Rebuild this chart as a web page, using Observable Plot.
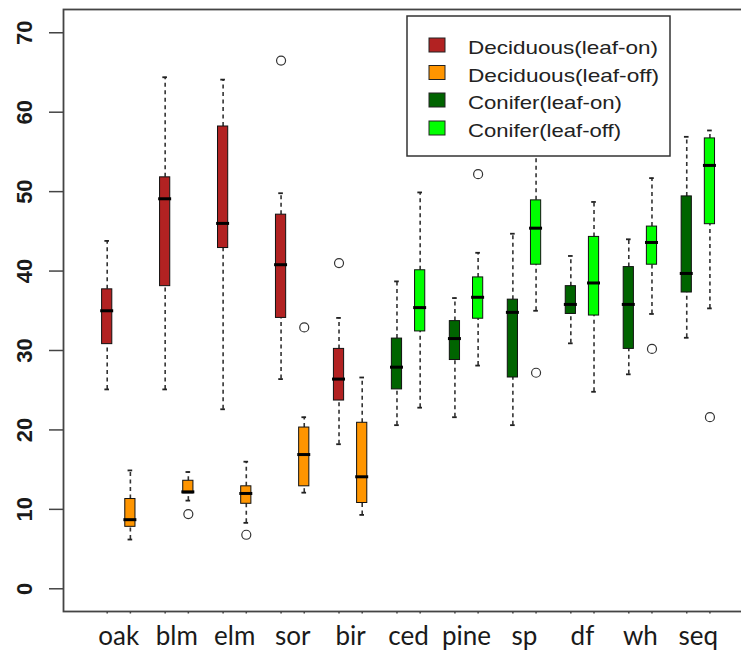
<!DOCTYPE html>
<html>
<head>
<meta charset="utf-8">
<script src="https://cdn.jsdelivr.net/npm/d3@7"></script>
<script src="https://cdn.jsdelivr.net/npm/@observablehq/plot@0.6"></script>
<style>
  html, body { margin: 0; padding: 0; background: white; overflow: hidden; }
  #chart svg { display: block; max-width: none; }
</style>
</head>
<body>
<div id="chart"></div>
<script>
// ---- data ----
const species = ["oak","blm","elm","sor","bir","ced","pine","sp","df","wh","seq"];
const speciesType = ["Deciduous","Deciduous","Deciduous","Deciduous","Deciduous","Conifer","Conifer","Conifer","Conifer","Conifer","Conifer"];
const seriesNames = ["Deciduous(leaf-on)","Deciduous(leaf-off)","Conifer(leaf-on)","Conifer(leaf-off)"];
const seriesColors = ["#B22222","#FF9500","#006400","#00FF00"];
const yTicks = [0,10,20,30,40,50,60,70];

// leaf-on summary: lower whisker, Q1, median, Q3, upper whisker
const onLo  = [25.1,25.1,22.6,26.4,18.2,20.6,21.6,20.6,30.9,27.0,31.6];
const onQ1  = [30.8,38.1,42.9,34.1,23.7,25.1,28.8,26.6,34.6,30.2,37.3];
const onMed = [35.0,49.1,46.0,40.8,26.4,27.9,31.5,34.8,35.8,35.8,39.7];
const onQ3  = [37.7,51.8,58.2,47.1,30.2,31.5,33.7,36.4,38.1,40.5,49.4];
const onHi  = [43.8,64.4,64.1,49.8,34.1,38.7,36.6,44.7,41.9,44.0,56.9];
// leaf-off summary
const offLo  = [6.2,11.1,8.3,12.1,9.3,22.8,28.1,35.0,24.8,34.6,35.3];
const offQ1  = [7.8,12.0,10.7,12.9,10.8,32.4,34.0,40.8,34.4,40.8,45.9];
const offMed = [8.7,12.2,12.0,16.9,14.1,35.4,36.7,45.4,38.5,43.6,53.3];
const offQ3  = [11.3,13.6,12.9,20.3,20.9,40.1,39.2,48.9,44.3,45.6,56.7];
const offHi  = [14.9,14.7,16.0,21.6,26.6,49.9,42.3,55.7,48.7,51.7,57.7];
// outliers: species, leaf condition, value
const outSpecies = ["sor","bir","blm","elm","sor","pine","sp","wh","seq"];
const outCond    = ["on","on","off","off","off","off","off","off","off"];
const outValue   = [66.5,41.0,9.4,6.8,32.9,52.2,27.2,30.2,21.6];

// ---- build table ----
const pairStep = 2.5;
const posOf = (sp, cond) => species.indexOf(sp) * pairStep + (cond === "on" ? 0 : 1);
const boxes = [];
species.forEach((s, i) => {
  boxes.push({sp: s, cond: "on",  series: speciesType[i] + "(leaf-on)",  lo: onLo[i],  q1: onQ1[i],  med: onMed[i],  q3: onQ3[i],  hi: onHi[i]});
  boxes.push({sp: s, cond: "off", series: speciesType[i] + "(leaf-off)", lo: offLo[i], q1: offQ1[i], med: offMed[i], q3: offQ3[i], hi: offHi[i]});
});
boxes.forEach(b => b.pos = posOf(b.sp, b.cond));
const outliers = outSpecies.map((s, i) => ({pos: posOf(s, outCond[i]), v: outValue[i]}));
const labelPos = species.map((s, i) => ({name: s, pos: i * pairStep + 0.5}));

const bw = 0.22, mw = 0.28, cw = 0.1;
const plot = Plot.plot({
  width: 760, height: 650,
  marginLeft: 63, marginRight: 10, marginTop: 9, marginBottom: 39,
  style: {fontFamily: "Liberation Sans, Arial, sans-serif", background: "white"},
  x: {type: "linear", domain: [-1.885, 27.75], axis: null},
  y: {domain: [-2.86, 72.93], axis: null},
  color: {domain: seriesNames, range: seriesColors},
  marks: [
    // whiskers
    Plot.ruleX(boxes, {x: "pos", y1: "q3", y2: "hi", stroke: "#333", strokeWidth: 1.6, strokeDasharray: "4,3.5"}),
    Plot.ruleX(boxes, {x: "pos", y1: "lo", y2: "q1", stroke: "#333", strokeWidth: 1.6, strokeDasharray: "4,3.5"}),
    // staples
    Plot.ruleY(boxes, {y: "hi", x1: d => d.pos - cw, x2: d => d.pos + cw, stroke: "#222", strokeWidth: 1.8}),
    Plot.ruleY(boxes, {y: "lo", x1: d => d.pos - cw, x2: d => d.pos + cw, stroke: "#222", strokeWidth: 1.8}),
    // boxes
    Plot.rect(boxes, {x1: d => d.pos - bw, x2: d => d.pos + bw, y1: "q1", y2: "q3", fill: "series", stroke: "#111", strokeWidth: 1}),
    // medians
    Plot.ruleY(boxes, {y: "med", x1: d => d.pos - mw, x2: d => d.pos + mw, stroke: "#000", strokeWidth: 3}),
    // outliers
    Plot.dot(outliers, {x: "pos", y: "v", r: 4.5, stroke: "#333", strokeWidth: 1.2, fill: "none"}),
    // y axis ticks and labels
    Plot.axisY({ticks: yTicks, tickSize: 14, tickFormat: () => "", label: null, stroke: "#444", strokeWidth: 1.5}),
    Plot.text(yTicks, {y: d => d, text: d => String(d), frameAnchor: "left", dx: -39, rotate: -90,
      textAnchor: "middle", lineAnchor: "middle", fontSize: 22, fontWeight: "bold", fill: "#1a1a1a"}),
    // x ticks and labels
    Plot.axisX({ticks: boxes.map(b => b.pos), tickSize: 2.5, tickFormat: () => "", label: null, stroke: "#444", strokeWidth: 1.5}),
    Plot.text(labelPos, {x: "pos", text: "name", frameAnchor: "bottom", dy: 33, lineAnchor: "bottom",
      fontSize: 26, fontFamily: "Lato", fill: "#1a1a1a"}),
    Plot.frame({stroke: "#444", strokeWidth: 1.8})
  ]
});

// legend (inside plot, top right)
const svg = d3.select(plot);
const lg = svg.append("g").attr("text-anchor", "start");
lg.append("rect").attr("x", 407).attr("y", 16).attr("width", 263).attr("height", 140)
  .attr("fill", "white").attr("stroke", "#333").attr("stroke-width", 1.5);
const legY = [45, 72.5, 100, 128];
const legW = [190, 191, 154, 153];
seriesNames.forEach((n, i) => {
  lg.append("rect").attr("x", 429).attr("y", legY[i] - 7).attr("width", 16).attr("height", 14)
    .attr("fill", seriesColors[i]).attr("stroke", "#222").attr("stroke-width", 1);
  lg.append("text").attr("x", 468).attr("y", legY[i] + 9).attr("text-anchor", "start")
    .attr("font-family", "Liberation Sans, Arial, sans-serif").attr("font-size", 18.5)
    .attr("fill", "#222").attr("textLength", legW[i]).attr("lengthAdjust", "spacingAndGlyphs")
    .text(n);
});
document.getElementById("chart").appendChild(plot);
</script>
</body>
</html>
